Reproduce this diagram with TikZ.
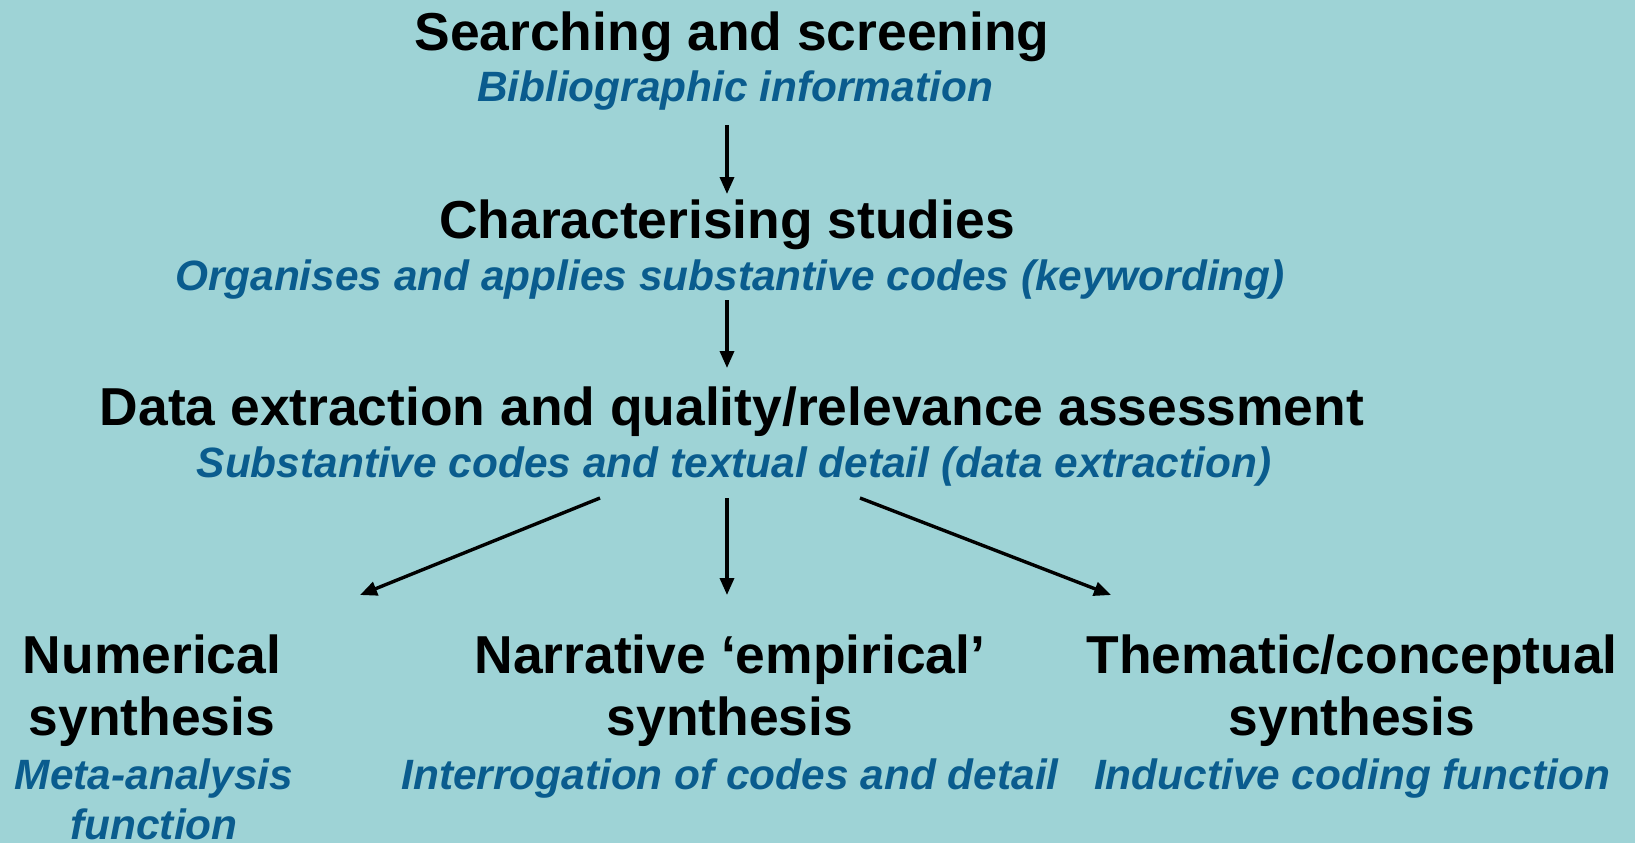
\documentclass[tikz,border=0pt]{standalone}
\usepackage{fontspec}
\setmainfont{Liberation Sans}
\usetikzlibrary{arrows.meta}
\definecolor{bgc}{HTML}{9ED3D6}
\definecolor{subc}{HTML}{0A5C8E}
\begin{document}
\begin{tikzpicture}[x=0.5pt,y=-0.5pt,
  head/.style={anchor=base,inner sep=0pt,font=\fontsize{26.7}{32}\selectfont\bfseries,text=black,align=center},
  sub/.style={anchor=base,inner sep=0pt,font=\fontsize{21.2}{25}\selectfont\bfseries\itshape,text=subc,align=center},
  arr/.style={line width=1.7pt,-{Triangle[length=8.5pt,width=7pt]}}]
\fill[bgc] (0,0) rectangle (1635,843);
\useasboundingbox (0,0) rectangle (1635,843);
\node[head] (s1) at (732,50) {Searching and screening};
\node[sub] (b1) at (735,101) {Bibliographic information};
\node[head] (s2) at (727,238) {Characterising studies};
\node[sub] (b2) at (730,290) {Organises and applies substantive codes (keywording)};
\node[head] (s3) at (732,425) {Data extraction and quality/relevance assessment};
\node[sub] (b3) at (734,477) {Substantive codes and textual detail (data extraction)};
\node[head] (n1) at (152,673) {Numerical};
\node[head] (n2) at (152,735) {synthesis};
\node[sub] (m1) at (154,789) {Meta-analysis};
\node[sub] (m2) at (154,839) {function};
\node[head] (r1) at (730,673) {Narrative ‘empirical’};
\node[head] (r2) at (730,735) {synthesis};
\node[sub] (i1) at (730,789) {Interrogation of codes and detail};
\node[head] (t1) at (1352,673) {Thematic/conceptual};
\node[head] (t2) at (1352,735) {synthesis};
\node[sub] (c1) at (1352,789) {Inductive coding function};
\coordinate (a1s) at (727,125); \coordinate (a1e) at (727,194);
\coordinate (a2s) at (727,300); \coordinate (a2e) at (727,368);
\coordinate (a3s) at (600,498); \coordinate (a3e) at (360,595);
\coordinate (a4s) at (727,498); \coordinate (a4e) at (727,595);
\coordinate (a5s) at (860,498); \coordinate (a5e) at (1111,595);
\draw[arr] (a1s) -- (a1e);
\draw[arr] (a2s) -- (a2e);
\draw[arr] (a3s) -- (a3e);
\draw[arr] (a4s) -- (a4e);
\draw[arr] (a5s) -- (a5e);
\end{tikzpicture}
\end{document}
